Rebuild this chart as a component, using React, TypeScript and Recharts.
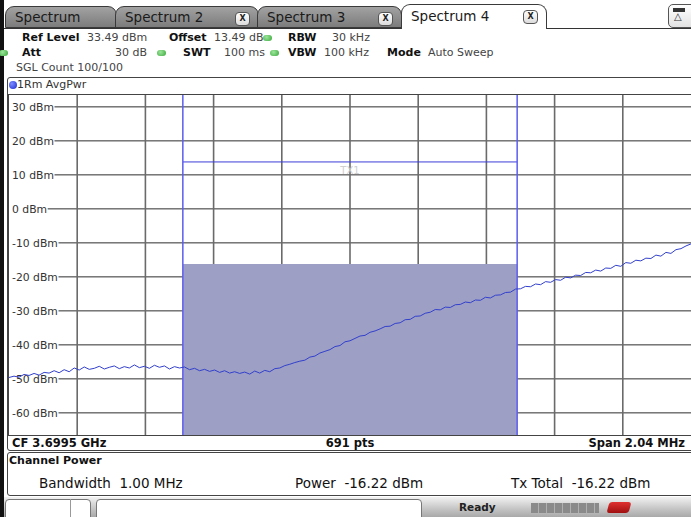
import React from 'react';
import {
  ComposedChart,
  Line,
  XAxis,
  YAxis,
  CartesianGrid,
  ReferenceArea,
  ReferenceLine,
} from 'recharts';

// ---- data ----
const traceDbm = [
  -49.6, -49.2, -49.5, -48.7, -49.0, -48.4, -48.9, -48.1, -48.3, -47.6,
  -48.2, -47.3, -47.9, -46.8, -47.4, -46.5, -47.2, -46.9, -46.3, -47.1,
  -46.6, -46.2, -47.0, -46.4, -46.8, -45.9, -46.7, -46.3, -46.9, -46.0,
  -46.6, -46.2, -47.1, -46.4, -46.8, -46.5, -47.3, -46.9, -47.6, -47.2,
  -47.8, -47.4, -48.1, -47.6, -48.3, -47.9, -48.4, -48.0, -48.6, -47.7,
  -48.3, -47.5, -47.9, -47.0, -46.8, -46.1, -45.7, -45.2, -44.8, -44.5,
  -43.6, -43.3, -42.4, -41.9, -41.4, -40.5, -40.2, -39.1, -38.8, -38.1,
  -37.4, -37.2, -36.3, -35.9, -35.3, -34.6, -34.5, -33.7, -33.5, -32.6,
  -32.5, -31.6, -31.5, -30.7, -30.4, -29.6, -29.7, -28.9, -29.0, -28.2,
  -28.1, -27.4, -27.6, -26.8, -26.9, -26.0, -26.2, -25.4, -25.3, -24.6,
  -24.5, -23.6, -23.5, -22.8, -22.9, -22.1, -22.3, -21.4, -21.6, -20.8,
  -21.0, -20.1, -20.3, -19.5, -19.6, -18.7, -18.8, -18.0, -18.3, -17.4,
  -17.5, -16.6, -16.9, -15.8, -16.0, -15.1, -15.3, -14.5, -14.6, -13.6,
  -13.9, -12.8, -13.1, -12.0, -11.7, -10.9, -10.3,
];
const SPAN_MHZ = 2.04;
const CHANNEL_BW_MHZ = 1.0;
const REF_LEVEL = 33.49;
const RANGE_DB = 100;
const CHANNEL_POWER = -16.22;
const TX_LINE_DBM = 13.8;
const yTicks = [30, 20, 10, 0, -10, -20, -30, -40, -50, -60];
const divisionCount = 10;
const tabLabels = ['Spectrum', 'Spectrum 2', 'Spectrum 3', 'Spectrum 4'];

const half = SPAN_MHZ / 2;
const chartData = traceDbm.map((dbm, i) => ({
  f: -half + (i * SPAN_MHZ) / (traceDbm.length - 1),
  dbm,
}));
const xDivisions = Array.from({ length: divisionCount - 1 }, (_, k) => -half + ((k + 1) * SPAN_MHZ) / divisionCount);
const yMin = REF_LEVEL - RANGE_DB;

const FONT = '"DejaVu Sans", Verdana, sans-serif';
const PLOT_W = 682;
const PLOT_H = 340;

const labelText = (v: number) => `${v} dBm`;
const labelWidth = (s: string) => {
  let w = 0;
  for (const ch of s) {
    if (ch === '-') w += 4;
    else if (ch === ' ') w += 3.4;
    else if (ch === 'm') w += 10.4;
    else if (ch === 'B') w += 7.3;
    else w += 6.8;
  }
  return w;
};
const LABEL_X = 3;

// horizontal grid line + its level label (label sits at grid level, under the trace)
const hLine = (p: any) => {
  const actual = REF_LEVEL - (p.y1 * RANGE_DB) / PLOT_H;
  const v = Math.round(actual / 10) * 10;
  if (Math.abs(actual - v) > 1 || !yTicks.includes(v)) return <g key={`h-${p.index}`} />;
  const txt = labelText(v);
  const start = LABEL_X + labelWidth(txt) + 1;
  return (
    <g key={`h-${p.index}`}>
      <text x={LABEL_X} y={p.y1} dy={4} fontSize={10.8} fill="#333" fontFamily={FONT} textAnchor="start">
        {txt}
      </text>
      <line x1={start} x2={p.x2} y1={p.y1} y2={p.y2} stroke="#2e2e2e" strokeWidth={1} />
    </g>
  );
};
const vLine = (p: any) => {
  if (p.x1 < 2 || p.x1 > PLOT_W - 2) return <g key={`v-${p.index}`} />;
  return <line key={`v-${p.index}`} x1={p.x1} x2={p.x2} y1={p.y1} y2={p.y2} stroke="#6a6a6a" strokeWidth={1.6} />;
};

const XIcon = ({ left }: { left: number }) => (
  <div
    style={{
      position: 'absolute',
      left,
      top: 5,
      width: 13,
      height: 12,
      border: '1px solid #555',
      borderRadius: 4,
      background: 'linear-gradient(#ffffff,#dcdcdc)',
      fontSize: 8,
      fontWeight: 700,
      lineHeight: '12px',
      textAlign: 'center',
      color: '#222',
    }}
  >
    X
  </div>
);

const Tab = ({ label, left, width, selected, closable }: any) => (
  <div
    style={{
      position: 'absolute',
      left,
      top: selected ? 4 : 6,
      width,
      height: selected ? 25 : 22,
      borderRadius: '9px 9px 0 0',
      border: '1px solid #3a3a3a',
      borderBottom: selected ? 'none' : '1px solid #3a3a3a',
      background: selected ? '#ffffff' : 'linear-gradient(#a2a2a2,#7c7c7c)',
      boxSizing: 'border-box',
      zIndex: selected ? 3 : 1,
    }}
  >
    <div
      style={{
        position: 'absolute',
        left: 9,
        top: selected ? 3 : 2,
        fontSize: 13.5,
        color: '#1a1a1a',
        whiteSpace: 'nowrap',
      }}
    >
      {label}
    </div>
    {closable && <XIcon left={width - 25} />}
  </div>
);

const Dot = ({ left, top }: { left: number; top: number }) => (
  <div
    style={{
      position: 'absolute',
      left,
      top,
      width: 9,
      height: 6,
      borderRadius: 4,
      background: 'radial-gradient(circle at 40% 35%, #9be59b, #3aa83a)',
    }}
  />
);

const T = ({ left, top, children, bold, size = 11, color, right, center }: any) => (
  <div
    style={{
      position: 'absolute',
      left,
      top,
      right,
      fontSize: size,
      fontWeight: bold ? 700 : 400,
      color: color || (bold ? '#111' : '#444'),
      whiteSpace: 'nowrap',
      transform: center ? 'translateX(-50%)' : undefined,
    }}
  >
    {children}
  </div>
);

export default function App() {
  return (
    <div
      style={{
        position: 'absolute',
        left: 0,
        top: 0,
        width: 691,
        height: 517,
        overflow: 'hidden',
        background: '#ffffff',
        fontFamily: FONT,
      }}
    >
      {/* tab bar */}
      <div style={{ position: 'absolute', left: 0, top: 28, width: 691, height: 1, background: '#333' }} />
      <Tab label={tabLabels[0]} left={5} width={112} />
      <Tab label={tabLabels[1]} left={115} width={144} closable />
      <Tab label={tabLabels[2]} left={257} width={145} closable />
      <Tab label={tabLabels[3]} left={401} width={146} selected closable />
      <div
        style={{
          position: 'absolute',
          left: 668,
          top: 4,
          width: 30,
          height: 24,
          border: '1px solid #555',
          borderRadius: 5,
          background: 'linear-gradient(#ffffff,#e2e2e2)',
          boxSizing: 'border-box',
        }}
      >
        <div style={{ position: 'absolute', left: 4, top: 3, width: 12, height: 4, background: '#333' }} />
        <div style={{ position: 'absolute', left: 5, top: 6, fontSize: 10, color: '#333' }}>△</div>
      </div>

      {/* left frame */}
      <div style={{ position: 'absolute', left: 0, top: 0, width: 4, height: 517, background: '#111' }} />

      {/* settings */}
      <T left={22} top={31} bold>Ref Level</T>
      <T left={87} top={31}>33.49 dBm</T>
      <T left={169} top={31} bold>Offset</T>
      <T left={214} top={31}>13.49 dB</T>
      <Dot left={263} top={35} />
      <T left={288} top={31} bold>RBW</T>
      <T left={332} top={31}>30 kHz</T>

      <Dot left={-1} top={50} />
      <T left={22} top={46} bold>Att</T>
      <T left={115} top={46}>30 dB</T>
      <Dot left={157} top={50} />
      <T left={183} top={46} bold>SWT</T>
      <T left={224} top={46}>100 ms</T>
      <Dot left={270} top={50} />
      <T left={288} top={46} bold>VBW</T>
      <T left={324} top={46}>100 kHz</T>
      <T left={387} top={46} bold>Mode</T>
      <T left={428} top={46}>Auto Sweep</T>

      <T left={16} top={61}>SGL Count 100/100</T>

      {/* plot box */}
      <div
        style={{
          position: 'absolute',
          left: 7,
          top: 77,
          width: 700,
          height: 374,
          border: '1px solid #444',
          borderRadius: 3,
          boxSizing: 'border-box',
        }}
      />
      <div
        style={{
          position: 'absolute',
          left: 9,
          top: 81,
          width: 8,
          height: 8,
          borderRadius: 4,
          background: 'radial-gradient(circle at 35% 35%, #7f8cff, #1a2ad0)',
        }}
      />
      <T left={17} top={78} color="#333">1Rm AvgPwr</T>
      <div style={{ position: 'absolute', left: 7, top: 94, width: 690, height: 1, background: '#444' }} />
      <div style={{ position: 'absolute', left: 8, top: 95, width: 1, height: 340, background: '#444' }} />
      <div style={{ position: 'absolute', left: 7, top: 435, width: 690, height: 1, background: '#444' }} />

      <div style={{ position: 'absolute', left: 9, top: 95, width: PLOT_W, height: PLOT_H }}>
        <ComposedChart
          width={PLOT_W}
          height={PLOT_H}
          data={chartData}
          margin={{ top: 0, right: 0, bottom: 0, left: 0 }}
        >
          <CartesianGrid horizontal={hLine} vertical={vLine} />
          <XAxis
            dataKey="f"
            type="number"
            domain={[-half, half]}
            ticks={xDivisions}
            interval={0}
            minTickGap={0}
            hide
            allowDataOverflow
          />
          <YAxis
            type="number"
            domain={[yMin, REF_LEVEL]}
            ticks={yTicks}
            interval={0}
            hide
            allowDataOverflow
          />
          <ReferenceArea
            x1={-CHANNEL_BW_MHZ / 2}
            x2={CHANNEL_BW_MHZ / 2}
            y1={yMin}
            y2={CHANNEL_POWER}
            fill="#9d9fc5"
            fillOpacity={1}
            stroke="none"
          />
          <ReferenceLine
            segment={[
              { x: -CHANNEL_BW_MHZ / 2, y: TX_LINE_DBM },
              { x: CHANNEL_BW_MHZ / 2, y: TX_LINE_DBM },
            ]}
            stroke="#3c3cd8"
            strokeWidth={1}
            label={{ value: 'TX1', position: 'bottom', fill: '#cfcfcf', fontSize: 10, fontFamily: FONT }}
          />
          <ReferenceLine x={-CHANNEL_BW_MHZ / 2} stroke="#5c5cf0" strokeWidth={1.5} />
          <ReferenceLine x={CHANNEL_BW_MHZ / 2} stroke="#5c5cf0" strokeWidth={1.5} />
          <Line
            type="linear"
            dataKey="dbm"
            stroke="#3240cc"
            strokeWidth={1}
            dot={false}
            isAnimationActive={false}
          />
        </ComposedChart>
      </div>

      {/* CF row */}
      <T left={12} top={436} bold size={11.5} color="#111">CF 3.6995 GHz</T>
      <T left={350} top={436} bold size={11.5} color="#111" center>691 pts</T>
      <T right={6} top={436} bold size={11.5} color="#111">Span 2.04 MHz</T>

      {/* channel power */}
      <div
        style={{
          position: 'absolute',
          left: 7,
          top: 452,
          width: 700,
          height: 44,
          border: '1px solid #444',
          borderRadius: 3,
          boxSizing: 'border-box',
        }}
      />
      <T left={9} top={454} bold size={11} color="#111">Channel Power</T>
      <T left={39} top={475} size={13.5} color="#111">Bandwidth&nbsp;&nbsp;1.00 MHz</T>
      <T left={295} top={475} size={13.5} color="#111">Power&nbsp;&nbsp;-16.22 dBm</T>
      <T left={511} top={475} size={13.5} color="#111">Tx Total&nbsp;&nbsp;-16.22 dBm</T>

      {/* status bar */}
      <div
        style={{
          position: 'absolute',
          left: 4,
          top: 497,
          width: 687,
          height: 20,
          background: 'linear-gradient(#f2f2f2,#c4c4c4 60%,#a9a9a9)',
        }}
      />
      <div
        style={{
          position: 'absolute',
          left: 5,
          top: 499,
          width: 86,
          height: 22,
          border: '1px solid #777',
          borderRadius: 4,
          background: '#fff',
          boxSizing: 'border-box',
        }}
      />
      <div style={{ position: 'absolute', left: 70, top: 499, width: 1, height: 18, background: '#999' }} />
      <div
        style={{
          position: 'absolute',
          left: 96,
          top: 499,
          width: 326,
          height: 22,
          border: '1px solid #777',
          borderRadius: 4,
          background: '#fff',
          boxSizing: 'border-box',
        }}
      />
      <T left={459} top={501} bold size={10.5} color="#222">Ready</T>
      <div
        style={{
          position: 'absolute',
          left: 531,
          top: 503,
          width: 68,
          height: 10,
          background: 'repeating-linear-gradient(90deg,#8a8a8a 0 7px,#b0b0b0 7px 8px)',
        }}
      />
      <div
        style={{
          position: 'absolute',
          left: 608,
          top: 502,
          width: 22,
          height: 11,
          borderRadius: 3,
          background: 'linear-gradient(#e03030,#a01010)',
          transform: 'skewX(-15deg)',
        }}
      />
    </div>
  );
}
